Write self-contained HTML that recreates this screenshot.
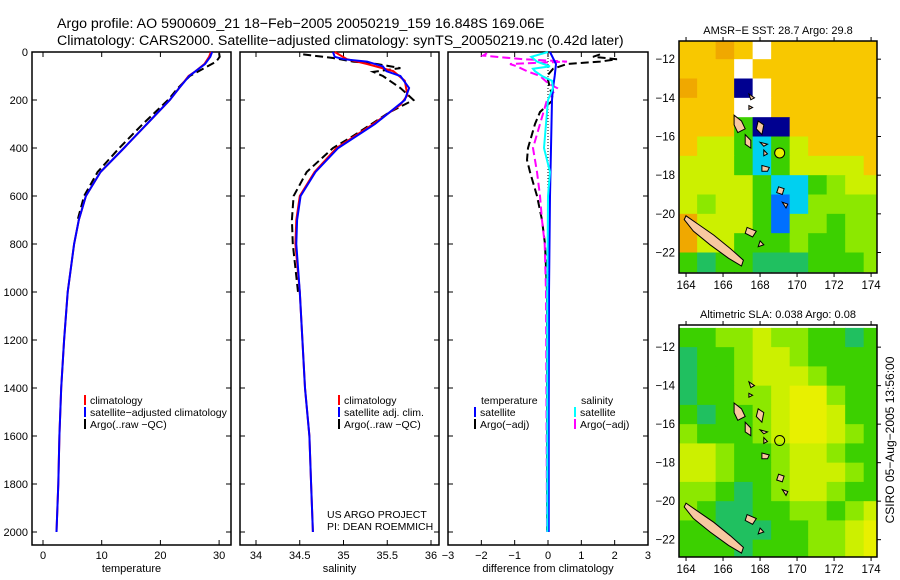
<!DOCTYPE html>
<html><head><meta charset="utf-8"><style>
body{margin:0;background:#fff}
svg{display:block;font-family:"Liberation Sans",sans-serif}
</style></head><body>
<svg id="s" width="900" height="580" viewBox="0 0 900 580">
<text x="57" y="28" font-size="14.2">Argo profile: AO 5900609_21 18−Feb−2005 20050219_159 16.848S 169.06E</text>
<text x="57" y="45" font-size="14.2">Climatology: CARS2000. Satellite−adjusted climatology: synTS_20050219.nc (0.42d later)</text>
<g id="g"></g>
<text transform="translate(894,440) rotate(-90)" text-anchor="middle" font-size="12">CSIRO 05−Aug−2005 13:56:00</text>
</svg>
<script>
// ===== Profile data =====
const tempClimDepth=[0,20,50,80,100,150,200,300,400,500,600,700,800,1000,1200,1400,1600,1800,2000];
const tempClim=[28.6,28.3,27.5,26.0,24.8,23.2,21.6,17.7,13.8,9.8,7.3,6.1,5.3,4.2,3.6,3.1,2.8,2.6,2.3];
const tempSat=[28.8,28.5,27.6,26.0,24.9,23.2,21.6,17.7,13.8,9.8,7.3,6.1,5.3,4.2,3.6,3.1,2.8,2.6,2.3];
const tempArgoDepth=[5,20,40,60,80,100,150,200,300,400,500,600,700];
const tempArgo=[30.0,30.1,29.5,28.0,26.5,25.0,23.0,21.3,17.0,13.0,9.3,7.0,5.9];

const salClimDepth=[0,30,50,80,120,180,220,300,400,500,600,700,800,1000,1200,1400,1600,1800,2000];
const salClim=[34.90,35.04,35.27,35.57,35.70,35.73,35.65,35.34,34.92,34.67,34.50,34.46,34.45,34.50,34.53,34.56,34.61,34.63,34.65];
const salSatDepth=[0,20,30,40,60,80,100,150,200,300,400,500,600,700,800,1000,1200,1400,1600,1800,2000];
const salSat=[34.88,34.90,35.00,35.27,35.45,35.49,35.65,35.75,35.70,35.36,34.94,34.68,34.51,34.47,34.46,34.50,34.53,34.56,34.61,34.63,34.65];
const salArgoDepth=[10,25,40,50,67,83,100,150,200,250,350,400,500,600,700,800,1000];
const salArgo=[34.54,34.88,35.11,35.38,35.65,35.34,35.45,35.65,35.80,35.53,35.11,34.88,34.58,34.43,34.41,34.42,34.48];

const dTSatDepth=[0,50,100,150,200,400,600,1000,1500,2000];
const dTSat=[0.06,0.24,0.2,0.15,0.12,0.09,0.06,0.03,0.02,0.02];
const dSSatDepth=[0,20,40,60,70,80,100,120,150,200,300,400,500,600,1000,2000];
const dSSat=[0,-0.5,-0.33,0.06,-0.45,-0.39,-0.18,0.12,0.15,0,-0.06,-0.12,0.06,0,-0.02,-0.02];
const dTArgoDepth=[10,20,30,40,50,70,100,150,200,250,300,400,450,500,600,700,800,1000,2000];
const dTArgo=[1.56,1.35,2.07,1.56,0.57,0.15,-0.03,0.06,0.15,-0.24,-0.39,-0.6,-0.63,-0.54,-0.33,-0.18,-0.09,-0.03,-0.03];
const dSArgoDepth=[5,15,30,40,50,60,80,100,130,150,200,300,400,500,600,700,800,1000,2000];
const dSArgo=[-1.83,-1.95,-0.75,0.57,-1.14,-0.93,-0.63,-0.24,0,0.27,-0.03,-0.24,-0.45,-0.33,-0.24,-0.18,-0.1,-0.06,-0.03];

const depthTicks=[0,200,400,600,800,1000,1200,1400,1600,1800,2000];
const tempTicks=[0,10,20,30];
const salTicks=[34,34.5,35,35.5,36];
const diffTicks=[-3,-2,-1,0,1,2,3];

// ===== Map data (1-degree cells, lat -11 .. -23, lon 163.6 .. 174.6) =====
const sstRows=["ooOoWoooooo","oooWooooooo","OooNWoooooo","oooWWoooooo","oooGNNooooo","oyyGCGyoooo","yyyGCGyyyyo","yyyyGCCGLyy","yLyyGBCLLLL","OyyyGBLLGLL","OyyGGGLGGLL","GTGGTTTGGGL"];
const slaRows=["GGLLyLLGGTG","TGGLyyLGGGG","TGGLyyyLGGG","TGGLLyYYLGG","GTGGLyYYyGG","LGGGLyYYyLG","yyLGGLyyLGG","yyLGGLyyyLG","LLGTGLyyLGG","LGTTGGLLGLy","GGTTTGGLLyY","GGGTGGGLLyY"];
const lonTicks=[164,166,168,170,172,174];
const latTicks=[-12,-14,-16,-18,-20,-22];
const islands=[
 [[164.0,-20.1],[164.6,-20.5],[165.5,-21.1],[166.4,-21.8],[167.1,-22.4],[167.0,-22.7],[166.3,-22.3],[165.3,-21.6],[164.4,-20.9],[163.9,-20.3]],
 [[166.6,-14.9],[167.0,-15.2],[167.2,-15.6],[166.8,-15.8],[166.6,-15.4]],
 [[167.2,-15.9],[167.5,-16.2],[167.5,-16.6],[167.2,-16.4]],
 [[168.1,-17.5],[168.5,-17.6],[168.4,-17.8],[168.1,-17.8]],
 [[169.0,-18.6],[169.3,-18.7],[169.2,-19.0],[168.9,-18.9]],
 [[169.2,-19.4],[169.5,-19.5],[169.4,-19.7]],
 [[167.3,-20.7],[167.8,-20.9],[167.6,-21.2],[167.2,-21.0]],
 [[168.0,-21.4],[168.2,-21.6],[167.9,-21.7]],
 [[167.9,-15.2],[168.2,-15.4],[168.1,-15.9],[167.8,-15.6]],
 [[168.0,-16.3],[168.4,-16.4],[168.2,-16.5]],
 [[168.2,-16.7],[168.4,-16.9],[168.2,-17.0]],
 [[167.4,-13.8],[167.7,-14.0],[167.5,-14.1]],
 [[167.4,-14.4],[167.6,-14.5],[167.4,-14.6]]
];
const argoLon=169.06, argoLat=-16.85;

const NS="http://www.w3.org/2000/svg";
const G=document.getElementById('g');
function mk(tag,attrs,parent){const e=document.createElementNS(NS,tag);for(const k in attrs)e.setAttribute(k,attrs[k]);(parent||G).appendChild(e);return e;}
function txt(x,y,s,size,anchor,parent){const e=mk('text',{x:x,y:y,'font-size':size,'text-anchor':anchor||'start'},parent);e.textContent=s;return e;}

const Y0=52, PY=0.24;
function yD(d){return Y0+d*PY;}
const TOP=52, BOT=545;

function panel(name,x0,x1,xf,ticks,fmt,label,leftLabels){
  const g=mk('g',{});
  
  
  const fr=mk('rect',{x:x0,y:TOP,width:x1-x0,height:BOT-TOP,fill:'none',stroke:'#000','stroke-width':1.5},g);
  
  
  depthTicks.forEach(d=>{
    mk('line',{x1:x0,x2:x0+5,y1:yD(d),y2:yD(d),stroke:'#000'},g);
    mk('line',{x1:x1-5,x2:x1,y1:yD(d),y2:yD(d),stroke:'#000'},g);
    if(leftLabels){const t=txt(x0-4,yD(d)+4,String(d),11,'end',g);
      
      }
  });
  ticks.forEach(v=>{
    const x=xf(v);
    mk('line',{x1:x,x2:x,y1:TOP,y2:TOP+5,stroke:'#000'},g);
    mk('line',{x1:x,x2:x,y1:BOT-5,y2:BOT,stroke:'#000'},g);
    const t=txt(x,559,fmt(v),11,'middle',g);
    
    
  });
  const l=txt((x0+x1)/2,572,label,11,'middle',g);
  
  
  return g;
}
function line(depths,vals,xf,color,name,dash,w){
  const pts=depths.map((d,i)=>xf(vals[i]).toFixed(1)+','+yD(d).toFixed(1)).join(' ');
  const p=mk('polyline',{points:pts,fill:'none',stroke:color,'stroke-width':w||2});
  if(dash)p.setAttribute('stroke-dasharray',dash);
  
  
  return p;
}
function legend(x,y,color,label,name){
  const r=mk('rect',{x:x,y:y-9,width:2,height:10,fill:color});
  
  
  const t=txt(x+6,y,label,10.5);
  
  
}

// Panel 1 temperature
const xT=v=>43+v*5.87;
panel('temperature-panel',32,231,xT,tempTicks,String,'temperature',true);
line(tempArgoDepth,tempArgo,xT,'#000','temp-argo-line','8,4');
line(tempClimDepth,tempClim,xT,'#f00','temp-climatology-line');
line(tempClimDepth,tempSat,xT,'#00f','temp-satellite-line');
legend(84,404,'#f00','climatology','legend-climatology');
legend(84,416,'#00f','satellite−adjusted climatology','legend-satellite');
legend(84,428,'#000','Argo(..raw −QC)','legend-argo');

// Panel 2 salinity
const xS=v=>256+(v-34)*87.5;
panel('salinity-panel',240,439,xS,salTicks,String,'salinity',false);
line(salArgoDepth,salArgo,xS,'#000','sal-argo-line','8,4');
line(salClimDepth,salClim,xS,'#f00','sal-climatology-line');
line(salSatDepth,salSat,xS,'#00f','sal-satellite-line');
legend(338,404,'#f00','climatology','legend-sal-climatology');
legend(338,416,'#00f','satellite adj. clim.','legend-sal-satellite');
legend(338,428,'#000','Argo(..raw −QC)','legend-sal-argo');
let t1=txt(327,518,'US ARGO PROJECT',10.5);


let t2=txt(327,530,'PI: DEAN ROEMMICH',10.5);



// Panel 3 difference
const xD=v=>548+v*33.33;
panel('difference-panel',448,648,xD,diffTicks,v=>v<0?'−'+(-v):String(v),'difference from climatology',false);
const z=mk('line',{x1:xD(0),x2:xD(0),y1:yD(0),y2:yD(2000),stroke:'#000','stroke-dasharray':'1,2'});


line(dTArgoDepth,dTArgo,xD,'#000','diff-temp-argo-line','8,4');
line(dSArgoDepth,dSArgo,xD,'#f0f','diff-sal-argo-line','8,4');
line(dTSatDepth,dTSat,xD,'#00f','diff-temp-satellite-line');
line(dSSatDepth,dSSat,xD,'#0ff','diff-sal-satellite-line');
let t3=txt(481,404,'temperature',10.5);


legend(474,416,'#00f','satellite','legend-temp-satellite');
legend(474,428,'#000','Argo(−adj)','legend-temp-argo');
let t4=txt(581,404,'salinity',10.5);


legend(574,416,'#0ff','satellite','legend-sal-satellite-diff');
legend(574,428,'#f0f','Argo(−adj)','legend-sal-argo-diff');

// Maps
const COL={O:'#f0a800',o:'#f8c800',Y:'#e8f000',y:'#ccf000',L:'#8ce800',G:'#3cd000',T:'#20c060',C:'#00d0f0',B:'#0070ff',N:'#000090',W:'#ffffff'};
function map(name,title,rows,mx0,my0,mx1,my1,latA,latB,fillCircle){
  const g=mk('g',{});
  
  
  const lonA=163.62,lonB=174.32;
  const X=lo=>mx0+(lo-lonA)/(lonB-lonA)*(mx1-mx0);
  const Yl=la=>my0+(latA-la)/(latA-latB)*(my1-my0);
  const clip='c'+name;
  const cp=mk('clipPath',{id:clip},g);
  mk('rect',{x:mx0,y:my0,width:mx1-mx0,height:my1-my0},cp);
  const cells=mk('g',{'clip-path':'url(#'+clip+')'},g);
  rows.forEach((r,i)=>{
    for(let j=0;j<r.length;j++){
      const la=-11-i, lo=163.6+j;
      const c=mk('rect',{x:X(lo),y:Yl(la),width:X(lo+1)-X(lo)+0.5,height:Yl(la-1)-Yl(la)+0.5,fill:COL[r[j]]},cells);
      
      
    }
  });
  islands.forEach(poly=>{
    const p=mk('polygon',{points:poly.map(q=>X(q[0]).toFixed(1)+','+Yl(q[1]).toFixed(1)).join(' '),fill:'#f8c8a0',stroke:'#000','stroke-width':1},cells);
    
    
  });
  const c=mk('circle',{cx:X(argoLon),cy:Yl(argoLat),r:5,fill:fillCircle,stroke:'#000','stroke-width':1},g);
  
  
  mk('rect',{x:mx0,y:my0,width:mx1-mx0,height:my1-my0,fill:'none',stroke:'#000','stroke-width':1.5},g);
  lonTicks.forEach(lo=>{
    mk('line',{x1:X(lo),x2:X(lo),y1:my0-4,y2:my0,stroke:'#000'},g);
    mk('line',{x1:X(lo),x2:X(lo),y1:my1,y2:my1+4,stroke:'#000'},g);
    const t=txt(X(lo),my1+16,String(lo),11.5,'middle',g);
    
    
  });
  latTicks.forEach(la=>{
    mk('line',{x1:mx1,x2:mx1+4,y1:Yl(la),y2:Yl(la),stroke:'#000'},g);
    const t=txt(mx0-4,Yl(la)+4,'−'+(-la),11.5,'end',g);
    
    
  });
  const tt=txt((mx0+mx1)/2,my0-7,title,11,'middle',g);
  
  
}
map('sst-map','AMSR−E SST: 28.7 Argo: 29.8',sstRows,679,41,877,273,-11.06,-23.06,'#e8f000');
map('sla-map','Altimetric SLA: 0.038 Argo: 0.08',slaRows,679,325,877,557,-10.85,-22.9,'none');
</script>
</body></html>
